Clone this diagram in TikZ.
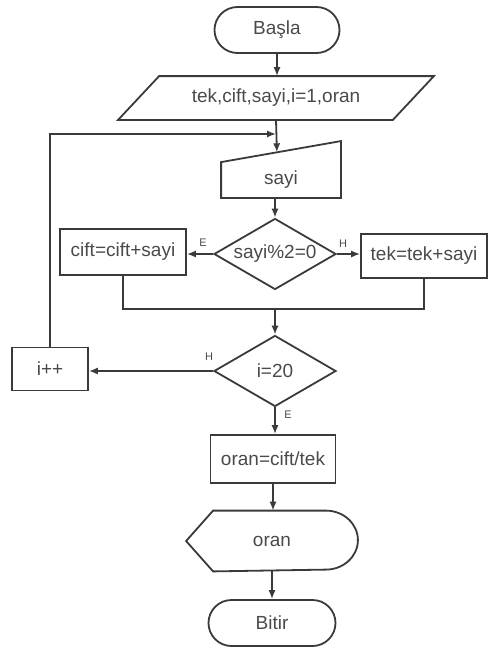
\documentclass[tikz,border=0pt]{standalone}
\usepackage{fontspec}
\setmainfont{Liberation Sans}
\usetikzlibrary{shapes.geometric,arrows.meta,calc}
\definecolor{ink}{HTML}{3A3A3A}
\definecolor{txt}{HTML}{4A4A4A}
\begin{document}
\begin{tikzpicture}[x=0.5pt,y=-0.5pt,
  line width=0.9pt, draw=ink, text=txt,
  font=\fontsize{9.5pt}{11pt}\selectfont,
  every node/.style={inner sep=0pt},
  arr/.style={-{Latex[length=4.5pt,width=3.6pt]}},
  term/.style={draw, rectangle, rounded corners=11.5pt, minimum width=#1, minimum height=23pt},
  proc/.style={draw, rectangle, minimum width=63pt},
  dec/.style={draw, diamond, aspect=1.7, minimum width=61pt, minimum height=35.5pt},
  plain/.style={rectangle},
  lbl/.style={font=\fontsize{5.5pt}{6pt}\selectfont}]
\useasboundingbox (0,0) rectangle (489,648);

% terminals, process boxes and decisions
\node[term=62.5pt] (start) at (277,30) {Başla};
\node[plain, minimum width=136.5pt, minimum height=21pt] (inp) at (276,98) {tek,cift,sayi,i=1,oran};
\node[plain, minimum width=59pt, minimum height=17pt] (rd) at (281,180) {sayi};
\node[dec] (d1) at (275,254) {sayi\%2=0};
\node[proc, minimum height=23pt] (cift) at (123,252) {cift=cift+sayi};
\node[proc, minimum height=22pt] (tek) at (424,256) {tek=tek+sayi};
\node[dec] (d2) at (275,371) {i=20};
\node[proc, minimum width=38pt, minimum height=21.5pt] (inc) at (50,369) {i++};
\node[proc, minimum width=62.5pt, minimum height=24pt] (calc) at (273,459) {oran=cift/tek};
\node[plain, minimum width=85pt, minimum height=29.5pt] (out) at (272,541) {oran};
\node[term=63.5pt] (end) at (272,623) {Bitir};

% input parallelogram
\draw ($(inp.north west)+(20.5,0)$) -- ($(inp.north east)+(20.5,0)$)
   -- ($(inp.south east)+(-20.5,0)$) -- ($(inp.south west)+(-20.5,0)$) -- cycle;
% manual input with slanted top
\coordinate (rdne) at ($(rd.north east)+(0,-21)$);
\draw (rd.north west) -- (rdne) -- (rd.south east) -- (rd.south west) -- cycle;
% display shape
\draw (out.west) -- ($(out.north west)+(27,0)$) -- ($(out.north east)+(-32,0)$)
   arc[start angle=90, end angle=-90, x radius=16pt, y radius=14.75pt]
   -- ($(out.south west)+(27,0)$) -- cycle;

% connectors
\coordinate (rdtop) at ($(rd.north west)!0.466!(rdne)$);
\coordinate (lp) at (276,134);
\coordinate (m) at (275,309);
\draw[arr] (start) -- (inp.north -| start);
\draw[arr] (inp.south) -- (rdtop);
\draw[arr] (inc.north) |- (lp);
\draw[arr] (rd.south -| d1.north) -- (d1.north);
\draw[arr] (d1.west) -- (d1.west -| cift.east);
\draw[arr] (d1.east) -- (d1.east -| tek.west);
\draw (cift.south) |- (m) -| (tek.south);
\draw[arr] (m) -- (d2.north);
\draw[arr] (d2.west) -- (d2.west -| inc.east);
\draw[arr] (d2.south) -- (d2.south |- calc.north);
\draw[arr] (calc.south) -- (calc.south |- out.north);
\draw[arr] (out.south) -- (end.north);

% branch labels
\node[lbl] (e1) at (203,243) {E};
\node[lbl] (h1) at (343,244) {H};
\node[lbl] (h2) at (209,357) {H};
\node[lbl] (e2) at (288,415) {E};
\end{tikzpicture}
\end{document}
